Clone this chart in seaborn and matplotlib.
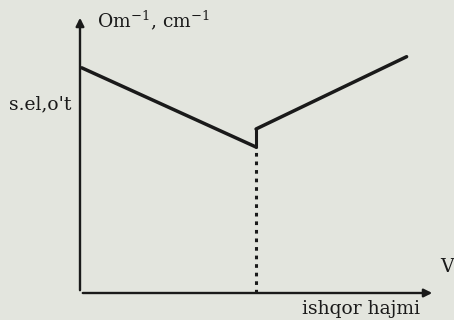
import seaborn as sns
import pandas as pd
import matplotlib.pyplot as plt

# titration curve (conductivity vs. volume of alkali), arbitrary units
vol_before = [0.05, 4.96]
cond_before = [8.1, 5.25]
vol_after = [4.96, 9.2]
cond_after = [5.9, 8.5]
vol_eq = [4.96, 4.96, 4.96]
cond_eq = [0.0, 5.25, 5.9]

sns.set_theme(style="white")
plt.rcParams['font.family'] = ['DejaVu Serif', 'Liberation Serif']
plt.rcParams['mathtext.fontset'] = 'dejavuserif'

bg = '#e3e5de'
fig = plt.figure(figsize=(4.54, 3.2), dpi=100, facecolor=bg)
ax = fig.add_axes([80 / 454, 27 / 320, 355 / 454, 278 / 320])
ax.set_facecolor(bg)

df1 = pd.DataFrame({'v': vol_before, 'k': cond_before})
df2 = pd.DataFrame({'v': vol_after, 'k': cond_after})
sns.lineplot(data=df1, x='v', y='k', ax=ax, color='#1a1a1a', lw=2.5)
sns.lineplot(data=df2, x='v', y='k', ax=ax, color='#1a1a1a', lw=2.5)
# solid jump, then dotted drop to the axis
ax.plot(vol_eq[1:], cond_eq[1:], color='#1a1a1a', lw=2.2)
ax.plot(vol_eq[:2], cond_eq[:2], color='#1a1a1a', lw=2.2, ls=(0, (1.2, 1.6)))

ax.set_xlim(0, 10)
ax.set_ylim(0, 10)
ax.set_xticks([])
ax.set_yticks([])
ax.set_xlabel('')
ax.set_ylabel('')
for s in ax.spines.values():
    s.set_visible(False)

# axes with arrows
arrow = dict(arrowstyle='-|>', color='#1a1a1a', lw=1.7, mutation_scale=12)
ax.annotate('', xy=(0, 1.0), xytext=(0, 0), xycoords='axes fraction', arrowprops=arrow)
ax.annotate('', xy=(1.0, 0), xytext=(0, 0), xycoords='axes fraction', arrowprops=arrow)

txt = dict(color='#1a1a1a', fontsize=13.5)
fig.text(97 / 454, 1 - 20 / 320, r'Om$^{-1}$, cm$^{-1}$', ha='left', va='center', **txt)
fig.text(9 / 454, 1 - 104 / 320, "s.el,o't", ha='left', va='center', **txt)
fig.text(440 / 454, 1 - 267 / 320, 'V', ha='left', va='center', **txt)
fig.text(302 / 454, 1 - 309 / 320, 'ishqor hajmi', ha='left', va='center', **txt)

fig.savefig('out.png', dpi=100, facecolor=bg)
